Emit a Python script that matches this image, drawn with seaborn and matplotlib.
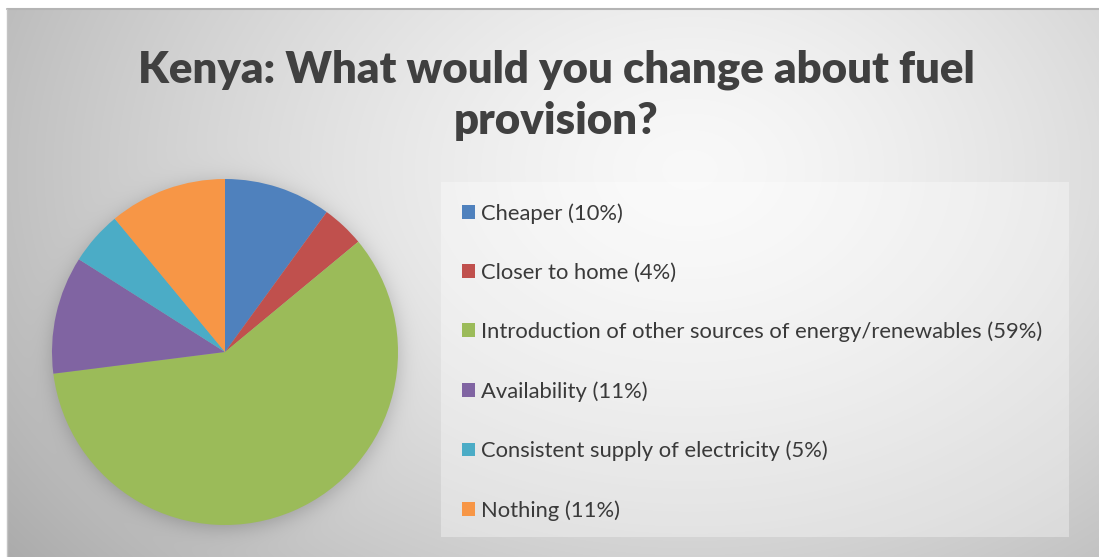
import numpy as np
import matplotlib
matplotlib.use("Agg")
import matplotlib.pyplot as plt
from matplotlib.patches import Rectangle
from matplotlib.lines import Line2D
import seaborn as sns

# Survey data
title_lines = ["Kenya: What would you change about fuel", "provision?"]
categories = [
    "Cheaper",
    "Closer to home",
    "Introduction of other sources of energy/renewables",
    "Availability",
    "Consistent supply of electricity",
    "Nothing",
]
shares = [10, 4, 59, 11, 5, 11]
slice_colors = ["#4F81BD", "#C0504D", "#9BBB59", "#8064A2", "#4BACC6", "#F79646"]

sns.set_theme(style="white")
plt.rcParams["font.family"] = ["Lato", "DejaVu Sans"]
palette = sns.color_palette(slice_colors)

W, H = 1099, 557
fig = plt.figure(figsize=(W / 100, H / 100), dpi=100, facecolor="white")

# Chart area with soft grey radial gradient and a blurred shadow under the pie
x0, y0 = 7, 9
cx, cy, R = 225, 352, 173
bg_ax = fig.add_axes([x0 / W, 0, (W - x0) / W, (H - y0) / H])
xs = np.arange(x0, W) + 0.5
ys = np.arange(y0, H) + 0.5
X, Y = np.meshgrid(xs, ys)
r = np.sqrt(((X - 690) / 640) ** 2 + ((Y - 170) / 470) ** 2)
shade = 0.975 - 0.2 * np.clip(r, 0, 1.6) ** 1.4
d = np.hypot(X - cx - 1, Y - cy - 3) - R
shade = shade - 0.17 / (1 + np.exp(d / 6))
bg_ax.imshow(np.dstack([shade] * 3), extent=[0, 1, 0, 1], aspect="auto",
             interpolation="bilinear")
bg_ax.set_axis_off()

# Frame edges
fig.add_artist(Line2D([x0 / W, 1], [1 - y0 / H] * 2, color="#b4b4b4", lw=1.5))
fig.add_artist(Line2D([x0 / W] * 2, [0, 1 - y0 / H], color="#c4c4c4", lw=1.0))

# Pie
ax = fig.add_axes([(cx - R) / W, (H - cy - R) / H, 2 * R / W, 2 * R / H])
wedges, _ = ax.pie(shares, colors=palette, startangle=90, counterclock=False,
                   radius=1, wedgeprops=dict(linewidth=0))
ax.set_xlim(-1, 1)
ax.set_ylim(-1, 1)
ax.set_axis_off()

# Legend panel
fig.add_artist(Rectangle((441 / W, (H - 537) / H), (1069 - 441) / W, (537 - 182) / H,
                         transform=fig.transFigure, facecolor="white", alpha=0.35,
                         edgecolor="none"))
labels = [f"{c} ({v}%)" for c, v in zip(categories, shares)]
fig.legend(wedges, labels, loc="upper left", bbox_to_anchor=(462 / W, 1 - 203 / H),
           frameon=False, fontsize=15.85, labelcolor="#3a3a3a",
           handlelength=0.58, handleheight=0.58, handletextpad=0.3,
           labelspacing=1.77, borderpad=0, borderaxespad=0)

# Title
for txt, base in zip(title_lines, [82, 134]):
    fig.text(556 / W, 1 - base / H, txt, ha="center", va="baseline",
             fontsize=31.5, fontweight="heavy", color="#404040")

fig.savefig("out.png", dpi=100, facecolor="white")
